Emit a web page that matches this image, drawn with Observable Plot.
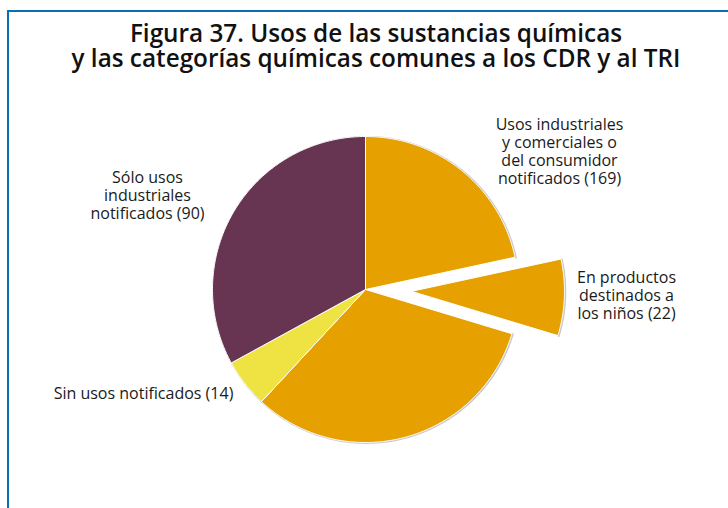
<!DOCTYPE html>
<html><head><meta charset="utf-8">
<script src="https://cdn.jsdelivr.net/npm/d3@7"></script>
<script src="https://cdn.jsdelivr.net/npm/@observablehq/plot@0.6"></script>
<style>
html,body{margin:0;padding:0;background:#fff;}
body{width:728px;height:508px;overflow:hidden;position:relative;font-family:"Open Sans",sans-serif;}
#frame{position:absolute;left:7px;top:10px;width:730px;height:510px;border-top:2px solid #0b6db2;border-left:2px solid #0b6db2;}
#title{position:absolute;top:20px;left:12px;width:728px;text-align:center;font-weight:600;font-size:24.3px;line-height:25px;color:#111;}
#chart{position:absolute;top:85px;left:0;}
</style></head><body>
<div id="frame"></div>
<div id="title">Figura 37. Usos de las sustancias químicas<br>y las categorías químicas comunes a los CDR y al TRI</div>
<div id="chart"></div>
<script>
// ---- data ----
const categories = [
  "Usos industriales y comerciales o del consumidor notificados",
  "En productos destinados a los niños",
  "Sin usos notificados",
  "Sólo usos industriales notificados"
];
const values = [169, 22, 14, 90];
// the 22 child-product chemicals are a subset of the 169; they start this many units into that slice
const childOffset = 59;
const labels = [
  "Usos industriales\ny comerciales o\ndel consumidor\nnotificados (169)",
  "En productos\ndestinados a\nlos niños (22)",
  "Sin usos notificados (14)",
  "Sólo usos\nindustriales\nnotificados (90)"
];
const colors = ["#e6a000", "#e6a000", "#eee343", "#673552"];

// ---- layout ----
const W = 728, H = 423, top0 = 85;
const cx = 365, cy = 289, R = 153, explode = 46;

const pieces = [
  {key: "a", cat: 0, value: childOffset},
  {key: "child", cat: 1, value: values[1]},
  {key: "b", cat: 0, value: values[0] - values[1] - childOffset},
  {key: "sin", cat: 2, value: values[2]},
  {key: "solo", cat: 3, value: values[3]}
];
const arcs = d3.pie().sort(null).value(d => d.value)(pieces);

const points = [];
const rim = [];
for (const a of arcs) {
  const d = a.data;
  const off = d.key === "child" ? explode : 0;
  const mid = (a.startAngle + a.endAngle) / 2;
  const ox = off * Math.sin(mid), oy = -off * Math.cos(mid);
  const fill = colors[d.cat];
  points.push({key: d.key, x: cx + ox, y: cy + oy, fill});
  const n = Math.max(8, Math.ceil((a.endAngle - a.startAngle) / 0.01));
  for (let i = 0; i <= n; i++) {
    const t = a.startAngle + (a.endAngle - a.startAngle) * i / n;
    const p = {key: d.key, x: cx + ox + R * Math.sin(t), y: cy + oy - R * Math.cos(t), fill};
    points.push(p);
    rim.push({key: d.key, x: p.x + 0.8, y: p.y + 0.4});
  }
  points.push({key: d.key, x: cx + ox, y: cy + oy, fill});
}

const labelPos = [[559, 150.5], [626, 294.5], [143, 393], [147, 195]];
const labelData = labels.map((t, i) => ({text: t, x: labelPos[i][0], y: labelPos[i][1], cat: categories[i]}));

const chart = Plot.plot({
  width: W, height: H, margin: 0,
  style: {fontFamily: "'Open Sans', sans-serif", background: "transparent", overflow: "visible"},
  x: {domain: [0, W], axis: null},
  y: {domain: [top0 + H, top0], axis: null},
  color: {type: "identity"},
  marks: [
    Plot.line(rim, {x: "x", y: "y", z: "key", stroke: "#c9c9c9", strokeWidth: 2}),
    Plot.line(points, {x: "x", y: "y", z: "key", fill: "fill", stroke: "white", strokeWidth: 1, strokeLinejoin: "miter"}),
    Plot.text(labelData, {x: "x", y: "y", text: "text", fontSize: 16, lineHeight: 1.12, fill: "#1a1a1a", textAnchor: "middle"})
  ]
});
document.getElementById("chart").appendChild(chart);
</script>
</body></html>
